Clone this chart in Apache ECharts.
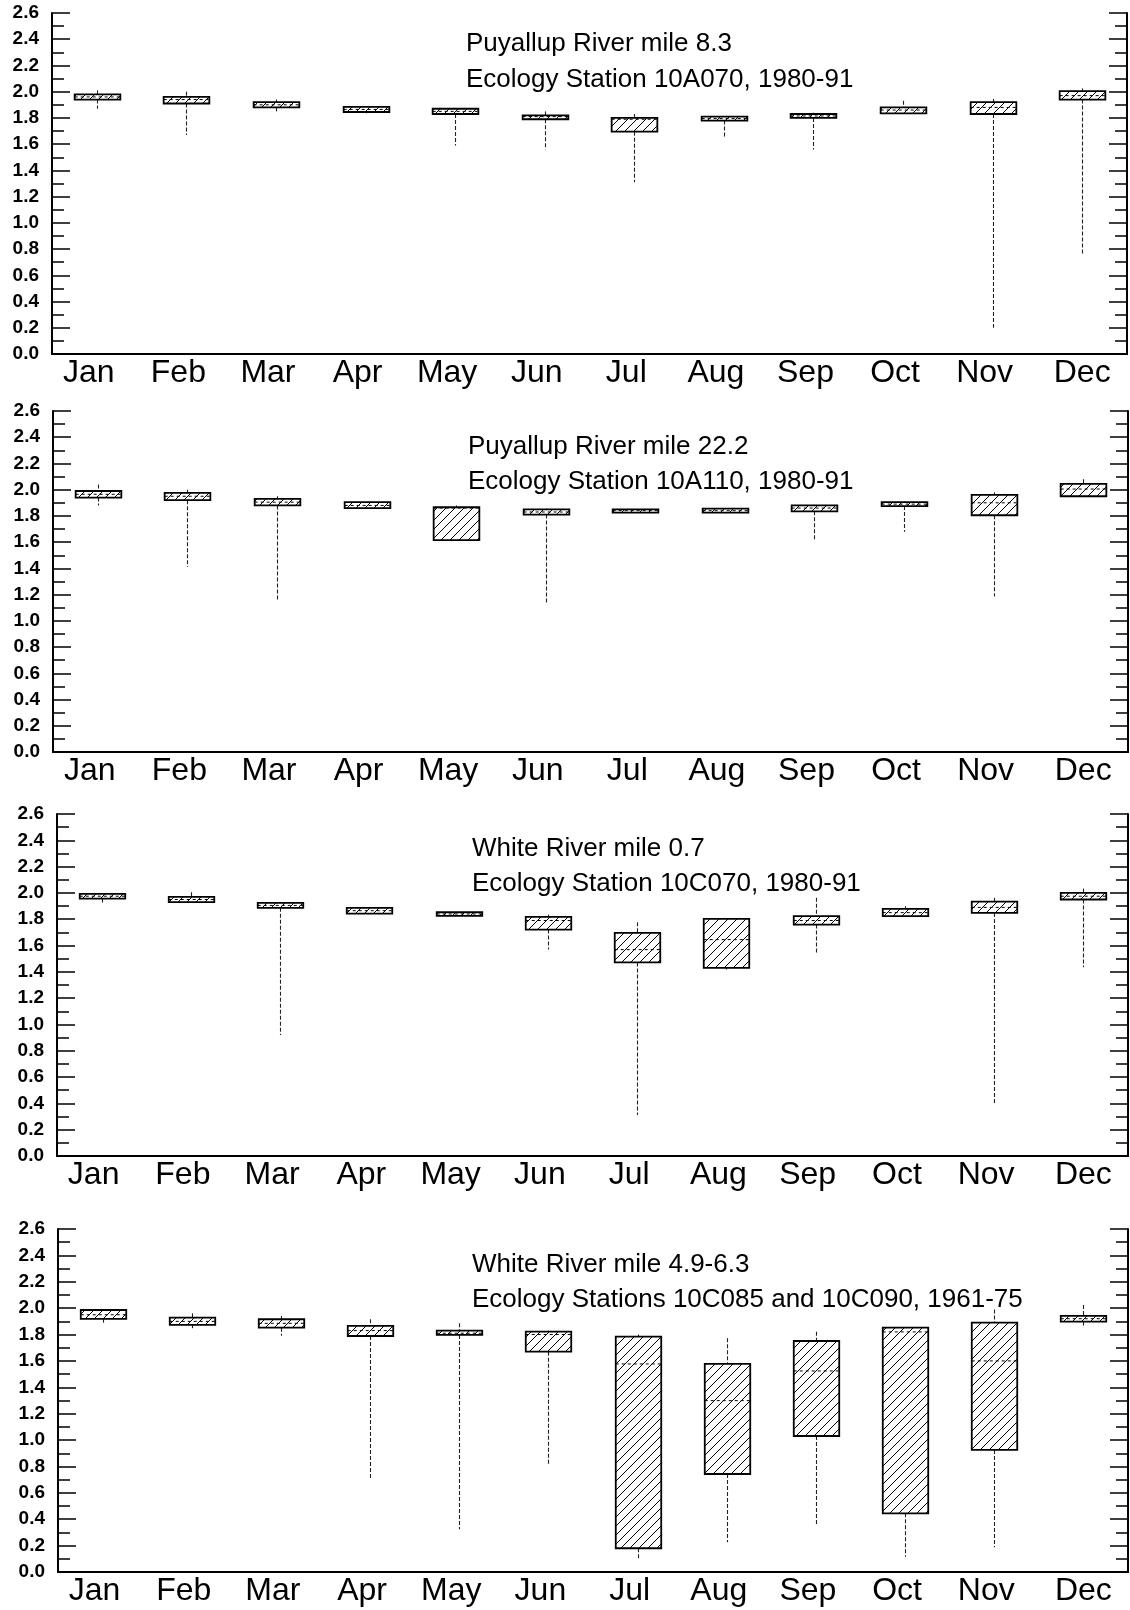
<!DOCTYPE html>
<html>
<head>
<meta charset="utf-8">
<script src="https://cdn.jsdelivr.net/npm/echarts@6/dist/echarts.min.js"></script>
<style>
  html, body { margin: 0; padding: 0; background: #fff; }
  #chart { width: 1130px; height: 1610px; }
</style>
</head>
<body>
<div id="chart"></div>
<script>
// months on the x axis
var months = ["Jan", "Feb", "Mar", "Apr", "May", "Jun", "Jul", "Aug", "Sep", "Oct", "Nov", "Dec"];
// y tick labels (0.0 .. 2.6 by 0.2)
var yMin = 0, yMax = 2.6, yStep = 0.2;

// each month: [min, q1, median, q3, max]
var puyallup83 = [
  [1.87, 1.94, 1.96, 1.98, 2.01],
  [1.67, 1.91, 1.94, 1.96, 2.00],
  [1.85, 1.88, 1.90, 1.92, 1.94],
  [1.835, 1.845, 1.865, 1.885, 1.89],
  [1.59, 1.83, 1.85, 1.87, 1.875],
  [1.56, 1.79, 1.81, 1.82, 1.85],
  [1.31, 1.695, 1.79, 1.80, 1.83],
  [1.65, 1.78, 1.795, 1.81, 1.81],
  [1.56, 1.80, 1.815, 1.83, 1.84],
  [1.835, 1.835, 1.86, 1.88, 1.93],
  [0.20, 1.83, 1.88, 1.92, 1.945],
  [0.755, 1.94, 1.97, 2.005, 2.025]
];
var puyallup222 = [
  [1.88, 1.94, 1.965, 1.99, 2.04],
  [1.41, 1.92, 1.95, 1.975, 2.00],
  [1.155, 1.88, 1.905, 1.93, 1.95],
  [1.86, 1.86, 1.88, 1.905, 1.905],
  [1.61, 1.616, 1.86, 1.866, 1.88],
  [1.134, 1.81, 1.83, 1.85, 1.855],
  [1.825, 1.825, 1.84, 1.85, 1.85],
  [1.82, 1.825, 1.84, 1.855, 1.86],
  [1.61, 1.835, 1.86, 1.88, 1.885],
  [1.68, 1.875, 1.89, 1.905, 1.91],
  [1.185, 1.805, 1.90, 1.96, 1.98],
  [1.95, 1.95, 2.005, 2.045, 2.08]
];
var white07 = [
  [1.925, 1.957, 1.975, 1.993, 1.995],
  [1.93, 1.93, 1.95, 1.97, 2.005],
  [0.92, 1.887, 1.905, 1.925, 1.93],
  [1.843, 1.843, 1.865, 1.887, 1.89],
  [1.825, 1.825, 1.84, 1.853, 1.855],
  [1.569, 1.721, 1.79, 1.818, 1.835],
  [0.312, 1.472, 1.569, 1.696, 1.777],
  [1.417, 1.43, 1.645, 1.803, 1.805],
  [1.531, 1.759, 1.79, 1.823, 1.963],
  [1.823, 1.823, 1.85, 1.879, 1.899],
  [0.388, 1.848, 1.89, 1.934, 1.963],
  [1.434, 1.95, 1.975, 2.0, 2.033]
];
var white4963 = [
  [1.89, 1.918, 1.95, 1.986, 1.99],
  [1.848, 1.873, 1.90, 1.928, 1.961],
  [1.79, 1.852, 1.885, 1.916, 1.941],
  [0.71, 1.789, 1.83, 1.865, 1.916],
  [0.324, 1.797, 1.81, 1.83, 1.886],
  [0.81, 1.67, 1.80, 1.822, 1.83],
  [0.104, 0.18, 1.577, 1.784, 1.80],
  [0.225, 0.743, 1.299, 1.577, 1.772],
  [0.356, 1.031, 1.524, 1.751, 1.822],
  [0.116, 0.445, 1.82, 1.852, 1.855],
  [0.187, 0.925, 1.60, 1.89, 1.99],
  [1.865, 1.898, 1.92, 1.941, 2.024]
];

var titles1 = ["Puyallup River mile 8.3", "Ecology Station 10A070, 1980-91"];
var titles2 = ["Puyallup River mile 22.2", "Ecology Station 10A110, 1980-91"];
var titles3 = ["White River mile 0.7", "Ecology Station 10C070, 1980-91"];
var titles4 = ["White River mile 4.9-6.3", "Ecology Stations 10C085 and 10C090, 1961-75"];

var panels = [
  { data: puyallup83, titles: titles1, grid: { left: 52, top: 13, width: 1075, height: 341 }, tx: 466, ty: [52, 87.5] },
  { data: puyallup222, titles: titles2, grid: { left: 53, top: 411, width: 1075, height: 341 }, tx: 468, ty: [455, 490] },
  { data: white07, titles: titles3, grid: { left: 57, top: 814, width: 1071, height: 342 }, tx: 472, ty: [857, 892] },
  { data: white4963, titles: titles4, grid: { left: 58, top: 1229, width: 1070, height: 343 }, tx: 472, ty: [1273, 1308] }
];

var FONT = '"Liberation Sans", Arial, Helvetica, sans-serif';

// diagonal hatch tile
var tile = document.createElement("canvas");
tile.width = 9;
tile.height = 9;
var tc = tile.getContext("2d");
tc.strokeStyle = "#000";
tc.lineWidth = 1;
tc.beginPath();
tc.moveTo(0, 9); tc.lineTo(9, 0);
tc.moveTo(-1, 1); tc.lineTo(1, -1);
tc.moveTo(8, 10); tc.lineTo(10, 8);
tc.stroke();
var hatch = { image: tile, repeat: "repeat" };

function renderBox(params, api) {
  var idx = api.value(0);
  var lo = api.coord([idx, api.value(1)]);
  var q1 = api.coord([idx, api.value(2)]);
  var md = api.coord([idx, api.value(3)]);
  var q3 = api.coord([idx, api.value(4)]);
  var hi = api.coord([idx, api.value(5)]);
  var w = api.size([1, 0])[0] * 0.51;
  var x = Math.round(q1[0]) + 0.5;
  var whisker = { stroke: "#222", lineWidth: 1.1, lineDash: [4, 2] };
  return {
    type: "group",
    children: [
      { type: "line", shape: { x1: x, y1: hi[1], x2: x, y2: q3[1] }, style: whisker },
      { type: "line", shape: { x1: x, y1: q1[1], x2: x, y2: lo[1] }, style: whisker },
      {
        type: "rect",
        shape: { x: x - w / 2, y: q3[1], width: w, height: Math.max(q1[1] - q3[1], 3) },
        style: { fill: hatch, stroke: "#000", lineWidth: 1.8 }
      },
      {
        type: "line",
        shape: { x1: x - w / 2, y1: md[1], x2: x + w / 2, y2: md[1] },
        style: { stroke: "#000", lineWidth: 1, lineDash: [3, 3] }
      }
    ]
  };
}

// month labels sit a little left of the box centres, except the last one
var monthRich = {
  s: { fontSize: 32, fontFamily: FONT, color: "#000", padding: [0, 16, 0, 0] },
  e: { fontSize: 32, fontFamily: FONT, color: "#000" }
};

var grids = [], xAxes = [], yAxes = [], series = [], graphics = [];
panels.forEach(function (p, i) {
  grids.push(p.grid);
  var lineStyle = { color: "#000", width: 2 };
  xAxes.push({
    type: "category", gridIndex: i, data: months, position: "bottom",
    axisLine: { lineStyle: lineStyle },
    axisTick: { inside: true, length: 7, lineStyle: { color: "#000", width: 1.5 } },
    axisLabel: {
      interval: 0, hideOverlap: false,
      color: "#000", fontSize: 32, fontFamily: FONT, margin: 3,
      formatter: function (v, k) { return (k === months.length - 1 ? "{e|" : "{s|") + v + "}"; },
      rich: monthRich
    },
    splitLine: { show: false }
  });
  xAxes.push({
    type: "category", gridIndex: i, data: months, position: "top",
    axisLine: { lineStyle: lineStyle },
    axisTick: { inside: true, length: 7, lineStyle: { color: "#000", width: 1.5 } },
    axisLabel: { show: false },
    splitLine: { show: false }
  });
  var yBase = {
    type: "value", gridIndex: i, min: yMin, max: yMax, interval: yStep,
    axisLine: { show: true, lineStyle: lineStyle },
    axisTick: { show: true, inside: true, length: 18, lineStyle: { color: "#000", width: 1.5 } },
    minorTick: { show: true, splitNumber: 2, length: 12, lineStyle: { color: "#000", width: 1.5 } },
    splitLine: { show: false },
    minorSplitLine: { show: false }
  };
  yAxes.push(Object.assign({}, yBase, {
    position: "left",
    axisLabel: {
      color: "#000", fontSize: 19, fontWeight: "bold", fontFamily: FONT, margin: 13,
      formatter: function (v) { return v.toFixed(1); }
    }
  }));
  yAxes.push(Object.assign({}, yBase, { position: "right", axisLabel: { show: false } }));

  series.push({
    type: "custom",
    xAxisIndex: i * 2,
    yAxisIndex: i * 2,
    renderItem: renderBox,
    data: p.data.map(function (b, k) { return [k].concat(b); }),
    z: 10
  });

  p.titles.forEach(function (t, k) {
    graphics.push({
      type: "text",
      x: p.tx,
      y: p.ty[k] - 8,
      style: { text: t, font: "26px " + FONT, fill: "#000", verticalAlign: "middle" }
    });
  });
});

var myChart = echarts.init(document.getElementById("chart"));
myChart.setOption({
  animation: false,
  backgroundColor: "#fff",
  grid: grids,
  xAxis: xAxes,
  yAxis: yAxes,
  series: series,
  graphic: graphics
});
</script>
</body>
</html>
